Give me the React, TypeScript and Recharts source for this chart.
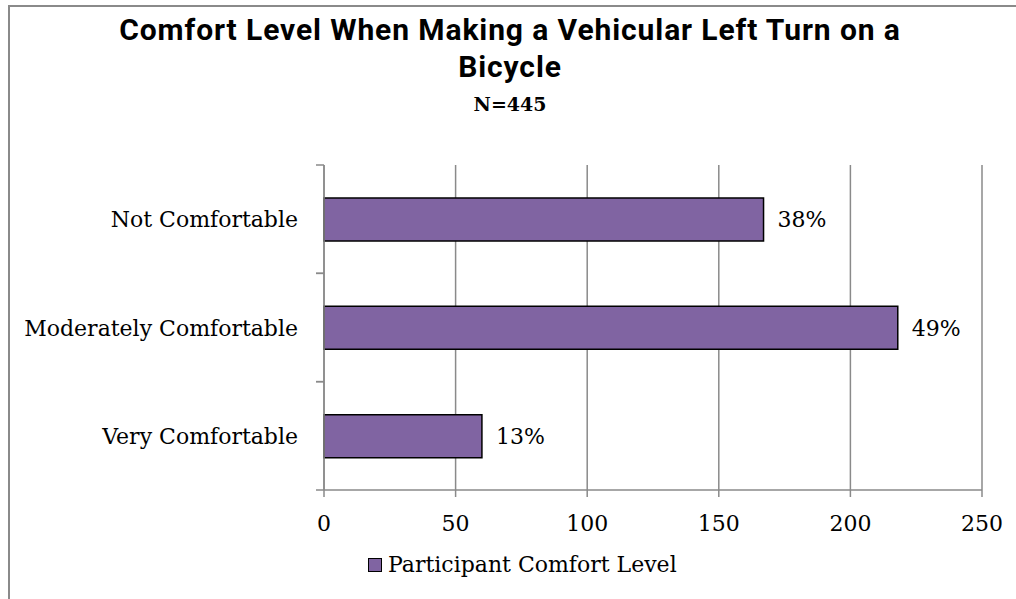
import React from 'react';
import { BarChart, Bar, XAxis, YAxis, CartesianGrid, LabelList } from 'recharts';

const categories = ['Not Comfortable', 'Moderately Comfortable', 'Very Comfortable'];
const counts = [167, 218, 60];
const percents = ['38%', '49%', '13%'];
const xTicks = [0, 50, 100, 150, 200, 250];

const data = categories.map((name, i) => ({ name, count: counts[i], pct: percents[i] }));

const SERIF = '"DejaVu Serif", serif';
const AXIS_GRAY = '#8a8a8a';
const PURPLE = '#8064A2';

const PLOT_TOP = 158;
const PLOT_HEIGHT = 325;
const BAND = PLOT_HEIGHT / categories.length;

function CategoryTick(props: any) {
    const { x, y, payload } = props;
    const lx = x + 18;
    return (
        <g>
            <line x1={lx} x2={lx + 8} y1={y - BAND / 2} y2={y - BAND / 2} stroke={AXIS_GRAY} strokeWidth={1.5} />
            <line x1={lx} x2={lx + 8} y1={y + BAND / 2} y2={y + BAND / 2} stroke={AXIS_GRAY} strokeWidth={1.5} />
            <text x={x} y={y} dy={8} textAnchor="end" fontFamily={SERIF} fontSize={22} fill="#000">
                {payload.value}
            </text>
        </g>
    );
}

export default function App() {
    return (
        <div
            style={{
                position: 'absolute',
                top: 5,
                left: 8,
                width: 1008,
                height: 594,
                borderTop: `2px solid ${AXIS_GRAY}`,
                borderLeft: `2px solid ${AXIS_GRAY}`,
                boxSizing: 'border-box',
                background: '#fff',
                overflow: 'hidden',
            }}
        >
            <div
                style={{
                    position: 'absolute',
                    top: 4,
                    left: 0,
                    width: 1000,
                    textAlign: 'center',
                    fontFamily: 'Roboto, sans-serif',
                    fontWeight: 700,
                    fontSize: 30,
                    letterSpacing: 0.9,
                    lineHeight: '37px',
                    color: '#000',
                }}
            >
                Comfort Level When Making a Vehicular Left Turn on a
                <br />
                Bicycle
            </div>
            <div
                style={{
                    position: 'absolute',
                    top: 86,
                    left: 0,
                    width: 1000,
                    textAlign: 'center',
                    fontFamily: SERIF,
                    fontWeight: 700,
                    fontSize: 19,
                    color: '#000',
                }}
            >
                N=445
            </div>
            <div style={{ position: 'absolute', top: 0, left: 0 }}>
                <BarChart
                    width={1006}
                    height={592}
                    data={data}
                    layout="vertical"
                    margin={{ top: PLOT_TOP, right: 34, bottom: 592 - PLOT_TOP - PLOT_HEIGHT - 50, left: 0 }}
                >
                    <CartesianGrid horizontal={false} vertical stroke={AXIS_GRAY} strokeWidth={1.5} />
                    <XAxis
                        type="number"
                        domain={[0, 250]}
                        ticks={xTicks}
                        height={50}
                        tickSize={7}
                        tickMargin={18}
                        axisLine={{ stroke: AXIS_GRAY, strokeWidth: 1.5 }}
                        tickLine={{ stroke: AXIS_GRAY, strokeWidth: 1.5 }}
                        tick={{ fontFamily: SERIF, fontSize: 22, fill: '#000' }}
                    />
                    <YAxis
                        type="category"
                        dataKey="name"
                        width={314}
                        tickSize={8}
                        tickMargin={18}
                        tickLine={false}
                        axisLine={{ stroke: AXIS_GRAY, strokeWidth: 1.5 }}
                        tick={<CategoryTick />}
                    />
                    <Bar dataKey="count" fill={PURPLE} stroke="#000" strokeWidth={1.5} barSize={43} isAnimationActive={false}>
                        <LabelList dataKey="pct" position="right" offset={14} fontFamily={SERIF} fontSize={22} fill="#000" />
                    </Bar>
                </BarChart>
            </div>
            <div
                style={{
                    position: 'absolute',
                    top: 545,
                    left: 358,
                    display: 'flex',
                    alignItems: 'center',
                    fontFamily: SERIF,
                    fontSize: 22,
                    color: '#000',
                }}
            >
                <span
                    style={{
                        display: 'inline-block',
                        width: 12,
                        height: 12,
                        background: PURPLE,
                        border: '1.5px solid #000',
                        marginRight: 6,
                    }}
                />
                Participant Comfort Level
            </div>
        </div>
    );
}
